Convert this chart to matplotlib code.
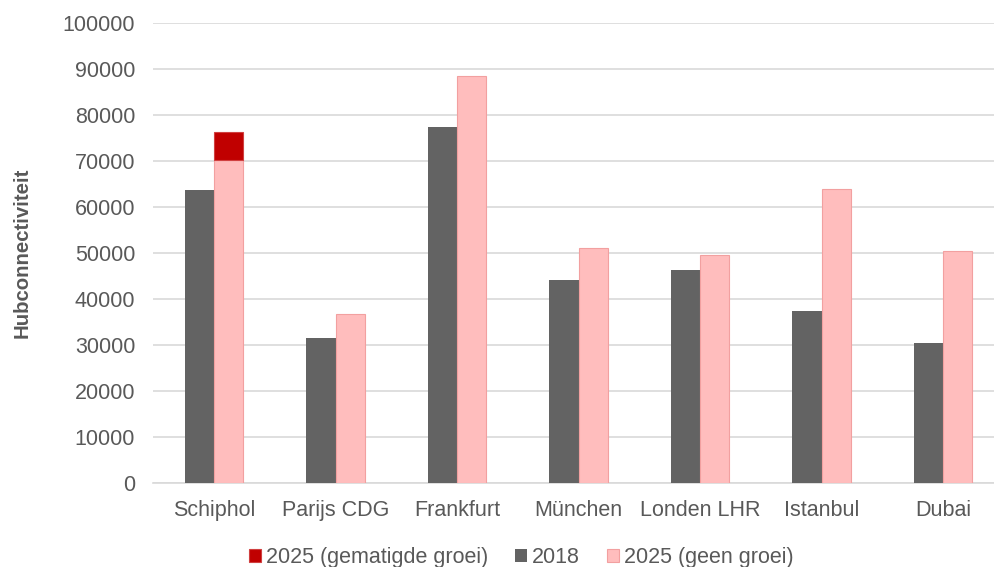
import numpy as np
import matplotlib.pyplot as plt

plt.rcParams['font.family'] = ['Liberation Sans', 'DejaVu Sans']

# data
airports = ['Schiphol', 'Parijs CDG', 'Frankfurt', 'München', 'Londen LHR', 'Istanbul', 'Dubai']
v2018 = [63700, 31500, 77400, 44100, 46300, 37400, 30400]
v2025_geen = [70200, 36700, 88500, 51100, 49600, 63900, 50400]
v2025_gematigd = [6100, 0, 0, 0, 0, 0, 0]  # extra bovenop geen groei

grey = '#636363'
pink = '#FFBDBD'
red = '#C00000'
txt = '#595959'

fig = plt.figure(figsize=(9.95, 5.67), dpi=100)
ax = fig.add_axes([0.154, 0.148, 0.855, 0.811])

x = np.arange(len(airports))
w = 0.24

ax.bar(x - w / 2, v2018, w, color=grey, label='2018', zorder=3)
ax.bar(x + w / 2, v2025_geen, w, color=pink, edgecolor='#F2A0A0', linewidth=0.8,
       label='2025 (geen groei)', zorder=3)
mask = np.array(v2025_gematigd) > 0
ax.bar(x[mask] + w / 2, np.array(v2025_gematigd)[mask], w,
       bottom=np.array(v2025_geen)[mask], color=red, edgecolor='#D04040', linewidth=0.8,
       label='2025 (gematigde groei)', zorder=3)

ax.set_xlim(-0.5, len(airports) - 0.5)
ax.set_ylim(0, 100000)
ax.set_yticks(np.arange(0, 100001, 10000))
ax.yaxis.grid(True, color='#D9D9D9', linewidth=1.2, zorder=0)
ax.set_axisbelow(True)
for s in ['top', 'right', 'left']:
    ax.spines[s].set_visible(False)
ax.spines['bottom'].set_color('#D9D9D9')
ax.spines['bottom'].set_linewidth(1.2)
ax.tick_params(axis='both', length=0, labelsize=15.5, colors=txt)
ax.tick_params(axis='y', pad=13)
ax.set_xticks(x)
ax.set_xticklabels(airports)
ax.tick_params(axis='x', pad=12)

ax.set_ylabel('Hubconnectiviteit', fontsize=14.7, fontweight='bold', color=txt, labelpad=20)
ax.yaxis.set_label_coords(-0.143, 0.5)

h, l = ax.get_legend_handles_labels()
order = [2, 0, 1]
fig.legend([h[i] for i in order], [l[i] for i in order], loc='lower center',
           bbox_to_anchor=(0.524, -0.036), ncol=3, frameon=False, fontsize=15.5,
           labelcolor=txt, handlelength=0.55, handleheight=0.55, handletextpad=0.25,
           columnspacing=1.25)

fig.savefig('out.png', dpi=100)
